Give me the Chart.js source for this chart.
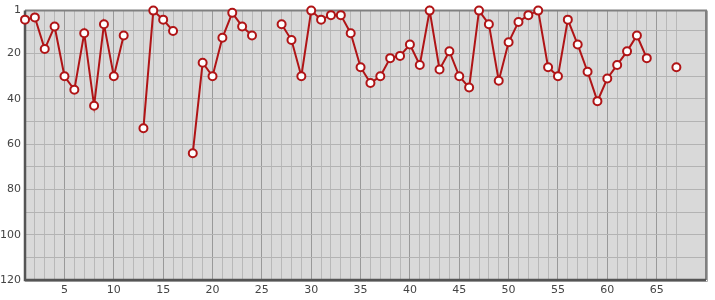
<!DOCTYPE html>
<html>
<head>
<meta charset="utf-8">
<script src="https://cdn.jsdelivr.net/npm/chart.js@4/dist/chart.umd.min.js"></script>
<style>
html,body{margin:0;padding:0;background:#fff;}
#wrap{width:715px;height:300px;}
</style>
</head>
<body>
<div id="wrap"><canvas id="c" width="715" height="300"></canvas></div>
<script>
const positions = [];
for (let i = 1; i <= 67; i++) positions.push(i);
const ranks = [
  5, 4, 18, 8, 30, 36, 11, 43, 7, 30,
  12, null, 53, 1, 5, 10, null, 64, 24, 30,
  13, 2, 8, 12, null, null, 7, 14, 30, 1,
  5, 3, 3, 11, 26, 33, 30, 22, 21, 16,
  25, 1, 27, 19, 30, 35, 1, 7, 32, 15,
  6, 3, 1, 26, 30, 5, 16, 28, 41, 31,
  25, 19, 12, 22, null, null, 26
];
const yTicks = [1, 10, 20, 30, 40, 50, 60, 70, 80, 90, 100, 110, 120];
const yLabels = [1, 20, 40, 60, 80, 100, 120];
const xLabelStep = 5;

const frame = {
  id: 'frame',
  beforeDraw(chart) {
    const {ctx, chartArea: a} = chart;
    ctx.save();
    ctx.fillStyle = '#d9d9d9';
    ctx.fillRect(a.left, a.top, a.right - a.left, a.bottom - a.top);
    ctx.restore();
  },
  beforeDatasetsDraw(chart) {
    const {ctx, chartArea: a} = chart;
    ctx.save();
    // shadow on right/bottom
    ctx.strokeStyle = '#aaaaaa';
    ctx.lineWidth = 1;
    ctx.beginPath();
    ctx.moveTo(a.right + 1.5, a.top);
    ctx.lineTo(a.right + 1.5, a.bottom + 1.5);
    ctx.lineTo(a.left, a.bottom + 1.5);
    ctx.stroke();
    // top and right
    ctx.strokeStyle = '#808080';
    ctx.lineWidth = 2;
    ctx.beginPath();
    ctx.moveTo(a.left, a.top);
    ctx.lineTo(a.right, a.top);
    ctx.lineTo(a.right, a.bottom);
    ctx.stroke();
    // left and bottom darker
    ctx.strokeStyle = '#555555';
    ctx.lineWidth = 2.5;
    ctx.beginPath();
    ctx.moveTo(a.left, a.top);
    ctx.lineTo(a.left, a.bottom);
    ctx.lineTo(a.right, a.bottom);
    ctx.stroke();
    ctx.restore();
  }
};

new Chart(document.getElementById('c'), {
  type: 'line',
  data: {
    labels: positions,
    datasets: [{
      data: ranks.map((v, i) => ({x: positions[i], y: v})),
      borderColor: '#b01416',
      borderWidth: 2,
      backgroundColor: '#ffffff',
      pointBackgroundColor: '#ffffff',
      pointBorderColor: '#b01416',
      pointBorderWidth: 2,
      pointRadius: 4,
      pointHoverRadius: 4,
      spanGaps: false,
      tension: 0,
      clip: false
    }]
  },
  options: {
    responsive: false,
    animation: false,
    events: [],
    layout: {padding: {left: 0, top: 10, right: 9, bottom: 0}},
    plugins: {legend: {display: false}, tooltip: {enabled: false}},
    scales: {
      x: {
        type: 'linear',
        min: 1,
        max: 70,
        afterFit(s) { s.height = 20; },
        afterBuildTicks(s) {
          const t = [];
          for (let i = 1; i <= 70; i++) t.push({value: i});
          s.ticks = t;
        },
        ticks: {
          autoSkip: false,
          maxRotation: 0,
          padding: 4,
          color: '#444444',
          font: {family: 'DejaVu Sans', size: 11},
          callback: v => (v % xLabelStep === 0 && v < 70) ? String(v) : ''
        },
        grid: {
          drawTicks: false,
          lineWidth: 1,
          color: ctx => {
            const v = ctx.tick ? ctx.tick.value : 0;
            if (v <= 1 || v >= 68) return 'rgba(0,0,0,0)';
            return v % 5 === 0 ? '#999999' : '#b8b8b8';
          }
        },
        border: {display: false}
      },
      y: {
        reverse: true,
        min: 1,
        max: 120,
        afterFit(s) { s.width = 25; },
        afterBuildTicks(s) { s.ticks = yTicks.map(v => ({value: v})); },
        ticks: {
          autoSkip: false,
          padding: 4,
          color: '#444444',
          font: {family: 'DejaVu Sans', size: 11},
          callback: v => yLabels.includes(v) ? String(v) : ''
        },
        grid: {
          drawTicks: false,
          lineWidth: 1,
          color: ctx => {
            const v = ctx.tick ? ctx.tick.value : 0;
            return (v === 1 || v === 120) ? 'rgba(0,0,0,0)' : '#b3b3b3';
          }
        },
        border: {display: false}
      }
    }
  },
  plugins: [frame]
});
</script>
</body>
</html>
